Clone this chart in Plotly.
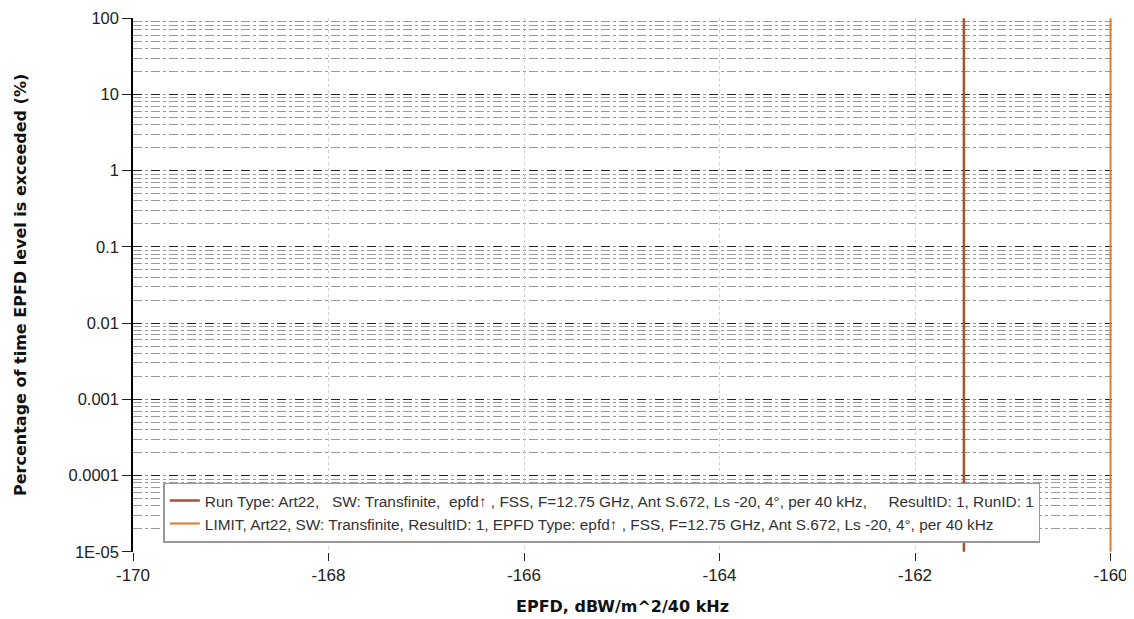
import plotly.graph_objects as go

# Data
pct_levels = [1e-5, 1e-4, 1e-3, 1e-2, 1e-1, 1, 10, 100]
run_epfd = [-161.5] * len(pct_levels)
limit_epfd = [-160.0] * len(pct_levels)
y_tick_vals = [1e-5, 1e-4, 1e-3, 1e-2, 1e-1, 1, 10, 100]
y_tick_text = ["1E-05", "0.0001", "0.001", "0.01", "0.1", "1", "10", "100"]
x_tick_vals = [-170, -168, -166, -164, -162, -160]
x_tick_text = ["-170", "-168", "-166", "-164", "-162", "-160"]

nb = "\u00a0"
run_name = ("Run Type: Art22," + nb * 3 + "SW: Transfinite," + nb * 2 + "epfd\u2191 , FSS, F=12.75 GHz, "
            "Ant S.672, Ls -20, 4°, per 40 kHz," + nb * 5 + "ResultID: 1, RunID: 1")
limit_name = ("LIMIT, Art22, SW: Transfinite, ResultID: 1, EPFD Type: epfd\u2191 , FSS, F=12.75 GHz, "
              "Ant S.672, Ls -20, 4°, per 40 kHz")

fig = go.Figure()
fig.add_trace(go.Scatter(x=run_epfd, y=pct_levels, mode="lines", name=run_name,
                         line=dict(color="#A5532F", width=2.5)))
fig.add_trace(go.Scatter(x=limit_epfd, y=pct_levels, mode="lines", name=limit_name,
                         line=dict(color="#E07B2E", width=2)))

title_font = dict(family="DejaVu Sans, Liberation Sans, sans-serif", size=16, color="#111")

fig.update_layout(
    width=1126, height=611,
    margin=dict(l=125, r=22, t=10, b=67, autoexpand=False),
    paper_bgcolor="white", plot_bgcolor="white",
    font=dict(family="Liberation Sans, Arial, sans-serif", size=16, color="#222"),
    showlegend=True,
    legend=dict(x=0.031, y=0.13, xanchor="left", yanchor="top",
                bgcolor="white", bordercolor="#999", borderwidth=1.5,
                font=dict(size=15.4, color="#333"), tracegroupgap=0,
                itemwidth=30),
    annotations=[
        dict(text="<b>EPFD, dBW/m^2/40 kHz</b>", xref="paper", yref="paper",
             x=0.5, y=0, yshift=-54, xanchor="center", yanchor="middle", showarrow=False,
             font=title_font),
        dict(text="<b>Percentage of time EPFD level is exceeded (%)</b>", xref="paper", yref="paper",
             x=0, xshift=-113, y=0.5, xanchor="center", yanchor="middle", textangle=-90, showarrow=False,
             font=title_font),
    ],
)

fig.update_xaxes(
    range=[-170, -159.985], tickvals=x_tick_vals, ticktext=x_tick_text, ticks="outside", ticklen=8,
    tickcolor="#222", showgrid=True, gridcolor="#d0d0d0", griddash="dot", gridwidth=1,
    showline=False, zeroline=False, automargin=False, ticklabeloverflow="allow",
    tickfont=dict(size=17),
)
fig.update_yaxes(
    type="log", range=[-5.003, 2.002], tickvals=y_tick_vals, ticktext=y_tick_text,
    ticks="outside", ticklen=9, tickcolor="#222", ticklabeloverflow="allow",
    showgrid=True, gridcolor="#222", griddash="dash", gridwidth=1.3,
    minor=dict(dtick="D1", showgrid=True, gridcolor="#999", griddash="dashdot", ticks=""),
    showline=True, linecolor="black", linewidth=1.5, zeroline=False, automargin=False,
    tickfont=dict(size=16.5),
)

fig.write_html("out.html")
